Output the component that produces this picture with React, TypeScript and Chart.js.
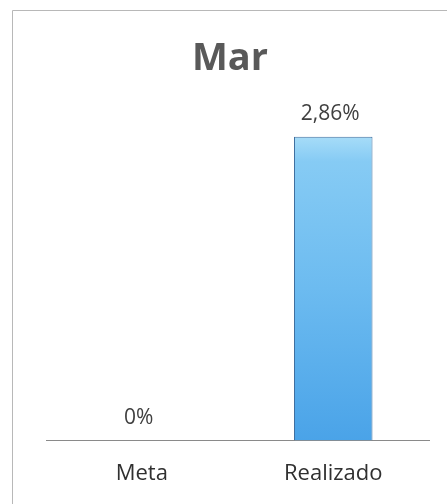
import React, { useEffect, useRef } from "react";
import { Chart, registerables } from "chart.js";

Chart.register(...registerables);

const title = "Mar";
const categories = ["Meta", "Realizado"];
const values = [0, 2.86];
const valueLabels = ["0%", "2,86%"];

const FONT = "'Open Sans', sans-serif";

const framePlugin = {
  id: "frame",
  beforeDraw(chart: any) {
    const ctx = chart.ctx;
    ctx.save();
    ctx.fillStyle = "#ffffff";
    ctx.fillRect(0, 0, chart.width, chart.height);
    ctx.strokeStyle = "#b8b8b8";
    ctx.lineWidth = 1;
    ctx.beginPath();
    ctx.moveTo(12.5, chart.height);
    ctx.lineTo(12.5, 10.5);
    ctx.lineTo(chart.width, 10.5);
    ctx.stroke();
    // title
    ctx.fillStyle = "#595959";
    ctx.font = "bold 38px " + FONT;
    ctx.textAlign = "center";
    ctx.textBaseline = "alphabetic";
    ctx.fillText(title, 230, 70);
    ctx.restore();
  },
};

const labelPlugin = {
  id: "valueLabels",
  afterDatasetsDraw(chart: any) {
    const ctx = chart.ctx;
    const meta = chart.getDatasetMeta(0);
    ctx.save();
    ctx.font = "21px " + FONT;
    ctx.fillStyle = "#404040";
    ctx.textAlign = "center";
    ctx.textBaseline = "alphabetic";
    meta.data.forEach((bar: any, i: number) => {
      ctx.fillText(valueLabels[i], bar.x - 3, bar.y - 17);
    });
    ctx.restore();
  },
};

export default function App() {
  const ref = useRef<HTMLCanvasElement>(null);
  useEffect(() => {
    document.body.style.margin = "0";
    const canvas = ref.current!;
    const ctx = canvas.getContext("2d")!;
    const grad = ctx.createLinearGradient(0, 137, 0, 441);
    grad.addColorStop(0, "#a6dcf8");
    grad.addColorStop(0.08, "#86cbf4");
    grad.addColorStop(0.5, "#6cbbf0");
    grad.addColorStop(1, "#4aa3e8");
    const chart = new Chart(canvas, {
      type: "bar",
      data: {
        labels: categories,
        datasets: [
          {
            data: values,
            backgroundColor: grad,
            borderColor: "#3f6f9f",
            borderWidth: 1,
            categoryPercentage: 1,
            barPercentage: 0.41,
          },
        ],
      },
      options: {
        animation: false,
        responsive: false,
        layout: { padding: { left: 46, right: 18, top: 122, bottom: 5 } },
        plugins: {
          legend: { display: false },
          tooltip: { enabled: false },
          title: { display: false },
        },
        scales: {
          y: { display: false, min: 0, max: 3 },
          x: {
            grid: { display: false },
            border: { display: true, color: "#8a8a8a", width: 1 },
            ticks: {
              color: "#303030",
              font: { size: 22, family: FONT },
              padding: 12,
            },
          },
        },
      },
      plugins: [framePlugin, labelPlugin],
    });
    return () => chart.destroy();
  }, []);
  return <canvas ref={ref} width={447} height={504} style={{ display: "block" }} />;
}
